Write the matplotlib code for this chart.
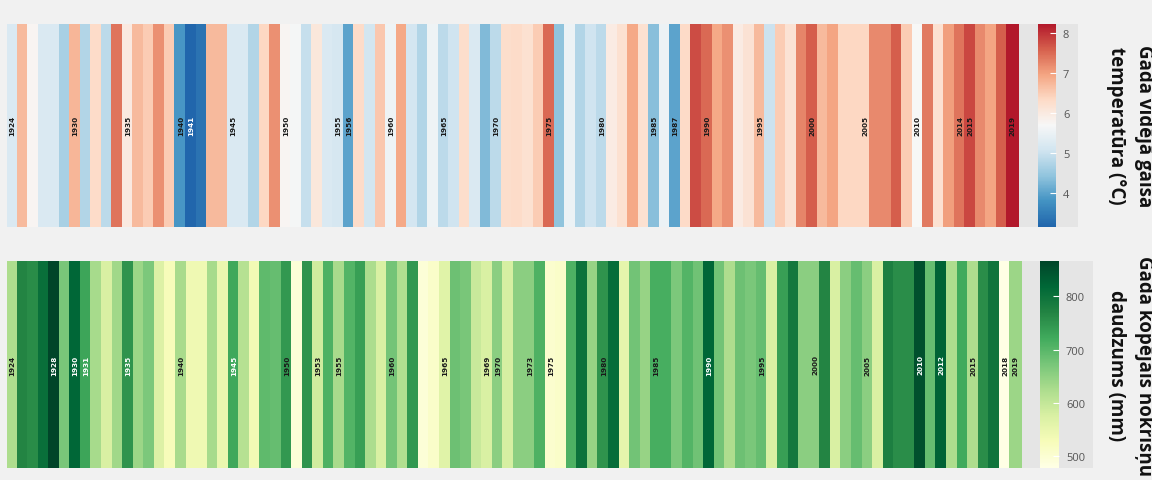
import numpy as np
import matplotlib
matplotlib.use("Agg")
import matplotlib.pyplot as plt
from matplotlib.colors import LinearSegmentedColormap, Normalize

## Years covered by both stripe panels
years = np.arange(1924, 2020)

## Annual mean air temperature (°C), 1924-2019
temps = [
    5.20, 6.70, 5.75, 5.20, 5.20, 4.65, 6.75, 4.75, 6.30, 4.85,  # 1924-1933
    7.40, 6.00, 6.70, 6.50, 7.15, 6.50, 3.85, 3.16, 3.35, 6.70,  # 1934-1943
    6.70, 5.20, 5.20, 4.75, 6.35, 7.15, 5.75, 5.65, 4.95, 6.05,  # 1944-1953
    5.20, 5.15, 4.00, 6.30, 5.08, 6.55, 5.55, 6.90, 5.10, 4.75,  # 1954-1963
    5.55, 4.85, 5.05, 6.25, 5.20, 4.30, 4.85, 6.25, 6.30, 6.20,  # 1964-1973
    6.50, 7.50, 4.42, 5.50, 4.75, 5.05, 4.85, 5.95, 6.20, 6.90,  # 1974-1983
    6.20, 4.35, 5.50, 4.00, 6.32, 7.75, 7.50, 6.90, 7.15, 5.95,  # 1984-1993
    6.15, 6.70, 5.00, 6.50, 6.15, 7.25, 7.60, 6.70, 6.95, 6.35,  # 1994-2003
    6.35, 6.35, 7.20, 7.20, 7.60, 6.50, 5.70, 7.35, 6.20, 7.00,  # 2004-2013
    7.40, 7.80, 7.20, 6.95, 7.60, 8.22,                          # 2014-2019
]

## Annual total precipitation (mm), 1924-2019
precip = [
    624, 769, 760, 805, 866, 672, 818, 728, 630, 576,  # 1924-1933
    635, 750, 640, 668, 570, 527, 628, 540, 540, 630,  # 1934-1943
    550, 725, 615, 535, 695, 688, 745, 495, 750, 585,  # 1944-1953
    710, 628, 705, 735, 625, 576, 676, 620, 745, 495,  # 1954-1963
    510, 565, 682, 672, 595, 576, 655, 580, 655, 655,  # 1964-1973
    710, 505, 510, 710, 800, 645, 750, 810, 555, 678,  # 1974-1983
    645, 715, 715, 668, 705, 680, 818, 678, 624, 682,  # 1984-1993
    670, 688, 576, 735, 790, 655, 655, 769, 576, 655,  # 1994-2003
    688, 655, 576, 778, 758, 758, 850, 688, 825, 624,  # 2004-2013
    721, 624, 758, 795, 479, 640,                      # 2014-2019
]

## Years written inside the stripes
temp_label_years = [1924, 1930, 1935, 1940, 1941, 1945, 1950, 1955, 1956, 1960,
                    1965, 1970, 1975, 1980, 1985, 1987, 1990, 1995, 2000, 2005,
                    2010, 2014, 2015, 2019]
temp_white_years = [1941]

precip_label_years = [1924, 1928, 1930, 1931, 1935, 1940, 1945, 1950, 1953, 1955,
                      1960, 1965, 1969, 1970, 1973, 1975, 1980, 1985, 1990, 1995,
                      2000, 2005, 2010, 2012, 2015, 2018, 2019]
precip_white_years = [1928, 1930, 1931, 1935, 1945, 1990, 2010, 2012]

temp_title = "Gada vidējā gaisa\ntemperatūra (°C)"
precip_title = "Gada kopējais nokrišņu\ndaudzums (mm)"

## 9-class ColorBrewer RdBu (blue -> red)
rdbu9 = ["#2166ac", "#4393c3", "#92c5de", "#d1e5f0", "#f7f7f7",
         "#fddbc7", "#f4a582", "#d6604d", "#b2182b"]
temp_cmap = LinearSegmentedColormap.from_list("rdbu9", rdbu9)
precip_cmap = plt.get_cmap("YlGn")

W, H = 1152, 481
BG = "#f1f1f1"
PANEL = "#e5e5e5"

plt.rcParams["font.family"] = ["Open Sans", "DejaVu Sans"]

fig = plt.figure(figsize=(W / 100, H / 100), dpi=100, facecolor=BG)


def box(x0, y0, x1, y1):
    """ Pixel box (from top-left) to figure fraction [left, bottom, width, height]. """
    return [x0 / W, 1 - y1 / H, (x1 - x0) / W, (y1 - y0) / H]


def stripes(rect, crect, values, cmap, step, label_years, white_years, ticks):
    """ Draws one row of stripes with year labels and its colorbar. """
    ax = fig.add_axes(rect)
    ax.set_facecolor(PANEL)
    norm = Normalize(min(values), max(values))
    edges = np.append(years - 0.5, years[-1] + 0.5)
    mesh = ax.pcolormesh(edges, [0, 1], np.array([values]), cmap=cmap, norm=norm,
                         edgecolors="face", linewidth=0.2)
    ax.set_xlim(years[0] - 0.5, years[0] - 0.5 + rect[2] * W / step)
    ax.set_ylim(0, 1)
    for s in ax.spines.values():
        s.set_visible(False)
    ax.set_xticks([])
    ax.set_yticks([])

    for yr in label_years:
        col = "white" if yr in white_years else "#1a1a1a"
        ax.text(yr, 0.5, str(yr), rotation=90, ha="center", va="center",
                fontsize=5.2, fontweight="bold", color=col,
                family=["DejaVu Sans"])

    cax = fig.add_axes(crect)
    cb = fig.colorbar(mesh, cax=cax, ticks=ticks)
    cb.outline.set_visible(False)
    cax.tick_params(direction="in", length=4, width=0.8, color="white",
                    labelsize=8, labelcolor="#555555", pad=5)
    return ax


stripes(box(7, 24.7, 1078, 227.5), box(1038, 24.7, 1056, 227.5), temps,
        temp_cmap, 10.53, temp_label_years, temp_white_years, [4, 5, 6, 7, 8])
stripes(box(7, 262, 1093, 469), box(1040, 262, 1059, 468.5), precip,
        precip_cmap, 10.5625, precip_label_years, precip_white_years,
        [500, 600, 700, 800])

fig.text(1130 / W, 1 - 126 / H, temp_title, rotation=-90, ha="center",
         va="center", multialignment="center", fontsize=13.5, fontweight="bold",
         color="#111111", linespacing=1.5)
fig.text(1130 / W, 1 - 366 / H, precip_title, rotation=-90, ha="center",
         va="center", multialignment="center", fontsize=13.5, fontweight="bold",
         color="#111111", linespacing=1.5)

fig.savefig("out.png", dpi=100, facecolor=BG)
